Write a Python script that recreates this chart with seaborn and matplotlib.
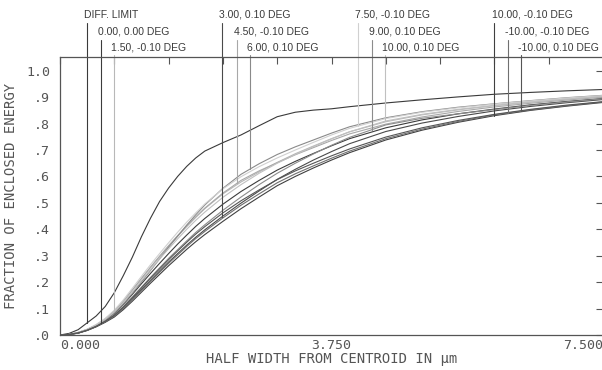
import numpy as np
import pandas as pd
import seaborn as sns

import matplotlib.pyplot as plt

# half width from centroid (micrometres)
half_width = [0, 0.125, 0.25, 0.375, 0.5, 0.625, 0.75, 0.875, 1.0, 1.125, 1.25,
              1.375, 1.5, 1.625, 1.75, 1.875, 2.0, 2.25, 2.5, 2.75, 3.0, 3.25,
              3.5, 3.75, 4.0, 4.5, 5.0, 5.5, 6.0, 6.5, 7.0, 7.5]

diff_limit = [0, 0.006, 0.020, 0.046, 0.072, 0.108, 0.160, 0.225, 0.295, 0.372, 0.442,
              0.505, 0.556, 0.600, 0.638, 0.670, 0.696, 0.728, 0.757, 0.792, 0.826, 0.843,
              0.851, 0.856, 0.864, 0.878, 0.890, 0.901, 0.911, 0.918, 0.924, 0.929]
f_000_000 = [0, 0.002, 0.009, 0.020, 0.036, 0.056, 0.082, 0.116, 0.154, 0.194, 0.233,
             0.271, 0.308, 0.344, 0.378, 0.411, 0.441, 0.495, 0.543, 0.585, 0.624, 0.657,
             0.687, 0.716, 0.743, 0.784, 0.814, 0.837, 0.855, 0.871, 0.884, 0.895]
f_150_m010 = [0, 0.002, 0.009, 0.021, 0.038, 0.061, 0.090, 0.127, 0.170, 0.213, 0.255,
              0.296, 0.336, 0.374, 0.410, 0.445, 0.478, 0.534, 0.579, 0.617, 0.653, 0.686,
              0.715, 0.743, 0.769, 0.807, 0.833, 0.852, 0.868, 0.881, 0.892, 0.902]
f_300_p010 = [0, 0.002, 0.007, 0.018, 0.032, 0.050, 0.072, 0.102, 0.136, 0.172, 0.207,
              0.242, 0.276, 0.308, 0.340, 0.370, 0.398, 0.450, 0.499, 0.545, 0.589, 0.627,
              0.662, 0.694, 0.724, 0.770, 0.802, 0.827, 0.848, 0.865, 0.879, 0.891]
f_450_m010 = [0, 0.002, 0.009, 0.021, 0.038, 0.061, 0.090, 0.128, 0.171, 0.214, 0.257,
              0.298, 0.338, 0.376, 0.413, 0.447, 0.480, 0.537, 0.585, 0.621, 0.652, 0.682,
              0.709, 0.736, 0.761, 0.798, 0.825, 0.846, 0.863, 0.877, 0.889, 0.900]
f_600_p010 = [0, 0.002, 0.009, 0.020, 0.036, 0.057, 0.083, 0.118, 0.158, 0.201, 0.244,
              0.288, 0.332, 0.374, 0.416, 0.455, 0.492, 0.555, 0.608, 0.648, 0.683, 0.712,
              0.738, 0.764, 0.788, 0.822, 0.845, 0.862, 0.875, 0.887, 0.898, 0.907]
f_750_m010 = [0, 0.002, 0.010, 0.022, 0.040, 0.063, 0.094, 0.133, 0.177, 0.222, 0.266,
              0.308, 0.349, 0.389, 0.427, 0.462, 0.496, 0.553, 0.599, 0.637, 0.670, 0.700,
              0.729, 0.757, 0.782, 0.819, 0.843, 0.860, 0.874, 0.886, 0.897, 0.906]
f_900_p010 = [0, 0.002, 0.008, 0.019, 0.034, 0.053, 0.076, 0.108, 0.144, 0.181, 0.218,
              0.254, 0.290, 0.323, 0.356, 0.388, 0.417, 0.472, 0.522, 0.569, 0.612, 0.650,
              0.685, 0.718, 0.748, 0.795, 0.820, 0.837, 0.853, 0.869, 0.882, 0.894]
f_1000_p010 = [0, 0.002, 0.009, 0.021, 0.037, 0.059, 0.087, 0.123, 0.164, 0.207, 0.248,
               0.288, 0.326, 0.364, 0.400, 0.434, 0.465, 0.521, 0.569, 0.612, 0.650, 0.683,
               0.713, 0.742, 0.769, 0.810, 0.835, 0.854, 0.869, 0.882, 0.893, 0.903]
f_1000_m010 = [0, 0.002, 0.007, 0.017, 0.031, 0.048, 0.068, 0.096, 0.128, 0.162, 0.196,
               0.229, 0.262, 0.293, 0.324, 0.353, 0.380, 0.430, 0.478, 0.522, 0.565, 0.600,
               0.632, 0.662, 0.690, 0.738, 0.775, 0.805, 0.830, 0.850, 0.866, 0.880]
f_m1000_m010 = [0, 0.002, 0.007, 0.018, 0.032, 0.050, 0.071, 0.100, 0.133, 0.168, 0.203,
                0.237, 0.271, 0.303, 0.335, 0.365, 0.392, 0.443, 0.491, 0.534, 0.576, 0.610,
                0.640, 0.669, 0.696, 0.743, 0.779, 0.808, 0.833, 0.852, 0.868, 0.882]
f_m1000_p010 = [0, 0.002, 0.008, 0.018, 0.033, 0.052, 0.075, 0.106, 0.141, 0.178, 0.215,
                0.250, 0.285, 0.318, 0.351, 0.382, 0.410, 0.462, 0.508, 0.549, 0.588, 0.621,
                0.650, 0.678, 0.704, 0.749, 0.784, 0.812, 0.835, 0.854, 0.870, 0.883]

field_labels = ["DIFF. LIMIT", "0.00, 0.00 DEG", "1.50, -0.10 DEG", "3.00, 0.10 DEG",
                "4.50, -0.10 DEG", "6.00, 0.10 DEG", "7.50, -0.10 DEG", "9.00, 0.10 DEG",
                "10.00, 0.10 DEG", "10.00, -0.10 DEG", "-10.00, -0.10 DEG", "-10.00, 0.10 DEG"]
field_values = [diff_limit, f_000_000, f_150_m010, f_300_p010, f_450_m010, f_600_p010,
                f_750_m010, f_900_p010, f_1000_p010, f_1000_m010, f_m1000_m010, f_m1000_p010]
field_colors = ["#3a3a3a", "#3c3c3c", "#b8b8b8", "#4a4a4a", "#a8a8a8", "#8a8a8a",
                "#d0d0d0", "#8c8c8c", "#c0c0c0", "#404040", "#707070", "#555555"]

# where the pointer line of each label meets its curve, and the label row
label_x = [0.37, 0.56, 0.75, 2.24, 2.44, 2.62, 4.12, 4.31, 4.49, 6.00, 6.19, 6.37]
label_row = [0, 1, 2, 0, 1, 2, 0, 1, 2, 0, 1, 2]

x_ticks = [0, 0.75, 1.5, 2.25, 3.0, 3.75, 4.5, 5.25, 6.0, 6.75, 7.5]
x_tick_labels = ["0.000", "", "", "", "", "3.750", "", "", "", "", "7.500"]
y_ticks = [0, 0.1, 0.2, 0.3, 0.4, 0.5, 0.6, 0.7, 0.8, 0.9, 1.0]
y_tick_labels = [".0", ".1", ".2", ".3", ".4", ".5", ".6", ".7", ".8", ".9", "1.0"]

rows = []
for name, vals in zip(field_labels, field_values):
    for x, y in zip(half_width, vals):
        rows.append({"field": name, "x": x, "y": y})
df = pd.DataFrame(rows)

sns.set_style("white")
plt.rcParams['font.family'] = ['DejaVu Sans Mono', 'DejaVu Sans']

fig = plt.figure(figsize=(6.02, 3.70), dpi=100)
ax = fig.add_axes([60 / 602, 35 / 370, 543 / 602, 278 / 370])

sns.lineplot(
    data=df, x="x", y="y", hue="field", hue_order=field_labels,
    palette=dict(zip(field_labels, field_colors)),
    estimator=None, sort=False, legend=False, linewidth=0.8, ax=ax
)

ax.set_xlim(0, 7.5)
ax.set_ylim(0, 1.052)

# pointer lines and labels above the plot
row_top = [1.18, 1.117, 1.06]
row_text = [1.212, 1.148, 1.087]
for i, name in enumerate(field_labels):
    xe = label_x[i]
    ye = np.interp(xe, half_width, field_values[i])
    r = label_row[i]
    ax.plot([xe, xe], [ye, row_top[r]], color=field_colors[i], lw=0.8, clip_on=False)
    ax.text(xe - 0.04, row_text[r], name, ha='left', va='center', fontsize=7.5,
            color='#3a3a3a', family=['Liberation Sans', 'DejaVu Sans'])

ax.set_xticks(x_ticks)
ax.set_xticklabels(x_tick_labels)
ax.set_yticks(y_ticks)
ax.set_yticklabels(y_tick_labels)
xl = ax.get_xticklabels()
xl[0].set_ha('left')
xl[-1].set_ha('right')

ax.tick_params(direction='in', length=5, width=0.8, top=True, right=True,
               color='#555555', labelcolor='#555555', labelsize=9.5)
ax.tick_params(axis='x', pad=3)
ax.tick_params(axis='y', pad=7)
for s in ax.spines.values():
    s.set_color('#555555')
    s.set_linewidth(0.9)

ax.set_xlabel("HALF WIDTH FROM CENTROID IN \u00b5m", fontsize=10, color='#555555', labelpad=0)
ax.set_ylabel("FRACTION OF ENCLOSED ENERGY", fontsize=10, color='#555555', labelpad=6)

fig.savefig("out.png", dpi=100)
